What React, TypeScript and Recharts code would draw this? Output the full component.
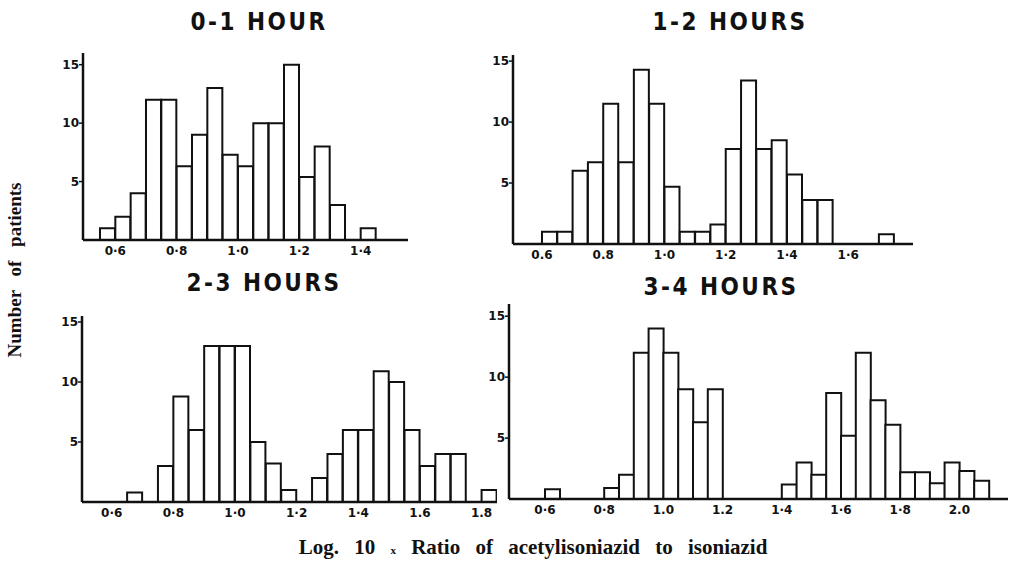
import React from "react";
import { BarChart, Bar, XAxis, YAxis } from "recharts";

const BIN = 0.05;

// 0-1 hour
const bins01 = [0.55, 0.6, 0.65, 0.7, 0.75, 0.8, 0.85, 0.9, 0.95, 1.0, 1.05, 1.1, 1.15, 1.2, 1.25, 1.3, 1.35, 1.4];
const counts01 = [1, 2, 4, 12, 12, 6.3, 9, 13, 7.3, 6.3, 10, 10, 15, 5.4, 8, 3, 0, 1];
const ticks01 = [0.6, 0.8, 1.0, 1.2, 1.4];
const labels01 = ["0·6", "0·8", "1·0", "1·2", "1·4"];

// 1-2 hours
const bins12 = [0.6, 0.65, 0.7, 0.75, 0.8, 0.85, 0.9, 0.95, 1.0, 1.05, 1.1, 1.15, 1.2, 1.25, 1.3, 1.35, 1.4, 1.45, 1.5, 1.55, 1.6, 1.65, 1.7];
const counts12 = [1, 1, 6, 6.7, 11.5, 6.7, 14.3, 11.5, 4.7, 1, 1, 1.6, 7.8, 13.4, 7.8, 8.5, 5.7, 3.6, 3.6, 0, 0, 0, 0.8];
const ticks12 = [0.6, 0.8, 1.0, 1.2, 1.4, 1.6];
const labels12 = ["0.6", "0.8", "1·0", "1·2", "1·4", "1·6"];

// 2-3 hours
const bins23 = [0.65, 0.7, 0.75, 0.8, 0.85, 0.9, 0.95, 1.0, 1.05, 1.1, 1.15, 1.2, 1.25, 1.3, 1.35, 1.4, 1.45, 1.5, 1.55, 1.6, 1.65, 1.7, 1.75, 1.8];
const counts23 = [0.8, 0, 3, 8.8, 6, 13, 13, 13, 5, 3.2, 1, 0, 2, 4, 6, 6, 10.9, 10, 6, 3, 4, 4, 0, 1];
const ticks23 = [0.6, 0.8, 1.0, 1.2, 1.4, 1.6, 1.8];
const labels23 = ["0·6", "0·8", "1·0", "1·2", "1·4", "1.6", "1.8"];

// 3-4 hours
const bins34 = [0.6, 0.65, 0.7, 0.75, 0.8, 0.85, 0.9, 0.95, 1.0, 1.05, 1.1, 1.15, 1.2, 1.25, 1.3, 1.35, 1.4, 1.45, 1.5, 1.55, 1.6, 1.65, 1.7, 1.75, 1.8, 1.85, 1.9, 1.95, 2.0, 2.05];
const counts34 = [0.8, 0, 0, 0, 0.9, 2, 12, 14, 12, 9, 6.3, 9, 0, 0, 0, 0, 1.2, 3, 2, 8.7, 5.2, 12, 8.1, 6.1, 2.2, 2.2, 1.3, 3, 2.3, 1.5];
const ticks34 = [0.6, 0.8, 1.0, 1.2, 1.4, 1.6, 1.8, 2.0];
const labels34 = ["0·6", "0·8", "1.0", "1.2", "1·4", "1·6", "1·8", "2.0"];

const yTicks = [5, 10, 15];

const INK = "#111";
const TICK_FONT = { fontFamily: "'DejaVu Sans', sans-serif", fontWeight: 700, fontSize: 12, fill: INK };

interface PanelProps {
  left: number;
  top: number;
  width: number;
  height: number;
  yMax: number;
  domain: [number, number];
  bins: number[];
  counts: number[];
  ticks: number[];
  labels: string[];
}

function Panel({ left, top, width, height, yMax, domain, bins, counts, ticks, labels }: PanelProps) {
  const ML = 4, MR = 4, MT = 4, MB = 2, YW = 28, XH = 22;
  const data = bins.map((b, i) => ({ x: b + BIN / 2, n: counts[i] }));
  return (
    <div style={{ position: "absolute", left: left - YW - ML, top: top - MT }}>
      <BarChart
        width={width + YW + ML + MR}
        height={height + XH + MT + MB}
        data={data}
        margin={{ top: MT, right: MR, bottom: MB, left: ML }}
        barCategoryGap={0}
        barGap={0}
      >
        <XAxis
          type="number"
          dataKey="x"
          domain={domain}
          allowDataOverflow
          ticks={ticks}
          interval={0}
          tickFormatter={(_v: number, i: number) => labels[i]}
          height={XH}
          tickLine={false}
          tickMargin={0}
          axisLine={{ stroke: INK, strokeWidth: 2.5 }}
          tick={TICK_FONT}
        />
        <YAxis
          type="number"
          domain={[0, yMax]}
          allowDataOverflow
          ticks={yTicks}
          interval={0}
          width={YW}
          tickSize={4}
          tickMargin={0}
          axisLine={{ stroke: INK, strokeWidth: 2.5 }}
          tickLine={{ stroke: INK, strokeWidth: 1.5 }}
          tick={TICK_FONT}
        />
        <Bar dataKey="n" fill="#fff" stroke={INK} strokeWidth={2} isAnimationActive={false} />
      </BarChart>
    </div>
  );
}

const titleStyle: React.CSSProperties = {
  position: "absolute",
  transform: "translate(-50%, -50%)",
  fontFamily: "'DejaVu Sans Condensed', 'Liberation Sans Narrow', sans-serif",
  fontWeight: 700,
  fontSize: 24,
  letterSpacing: 2.5,
  color: INK,
  whiteSpace: "nowrap",
};

export default function App() {
  return (
    <div style={{ position: "absolute", left: 0, top: 0, width: 1033, height: 567, background: "#fff", overflow: "hidden" }}>
      <div style={{ ...titleStyle, left: 259, top: 22 }}>0-1 HOUR</div>
      <div style={{ ...titleStyle, left: 730, top: 22 }}>1-2 HOURS</div>
      <div style={{ ...titleStyle, left: 264, top: 283 }}>2-3 HOURS</div>
      <div style={{ ...titleStyle, left: 721, top: 287 }}>3-4 HOURS</div>

      <Panel left={83} top={53} width={325} height={187} yMax={16} domain={[0.4946, 1.5543]}
        bins={bins01} counts={counts01} ticks={ticks01} labels={labels01} />
      <Panel left={513} top={55} width={400} height={189} yMax={15.5} domain={[0.5054, 1.8114]}
        bins={bins12} counts={counts12} ticks={ticks12} labels={labels12} />
      <Panel left={82} top={316} width={415} height={186} yMax={15.5} domain={[0.5036, 1.85]}
        bins={bins23} counts={counts23} ticks={ticks23} labels={labels23} />
      <Panel left={509} top={304} width={499} height={195} yMax={16} domain={[0.4784, 2.1642]}
        bins={bins34} counts={counts34} ticks={ticks34} labels={labels34} />

      <div
        style={{
          position: "absolute",
          left: 15,
          top: 270,
          transform: "translate(-50%, -50%) rotate(-90deg)",
          fontFamily: "'Liberation Serif', serif",
          fontWeight: 700,
          fontSize: 19,
          wordSpacing: 9,
          whiteSpace: "nowrap",
          color: INK,
        }}
      >
        Number of patients
      </div>
      <div
        style={{
          position: "absolute",
          left: 533,
          top: 547,
          transform: "translate(-50%, -50%)",
          fontFamily: "'Liberation Serif', serif",
          fontWeight: 700,
          fontSize: 21,
          wordSpacing: 10,
          whiteSpace: "nowrap",
          color: INK,
        }}
      >
        Log. 10 <span style={{ fontSize: 11 }}>x</span> Ratio of acetylisoniazid to isoniazid
      </div>
    </div>
  );
}
